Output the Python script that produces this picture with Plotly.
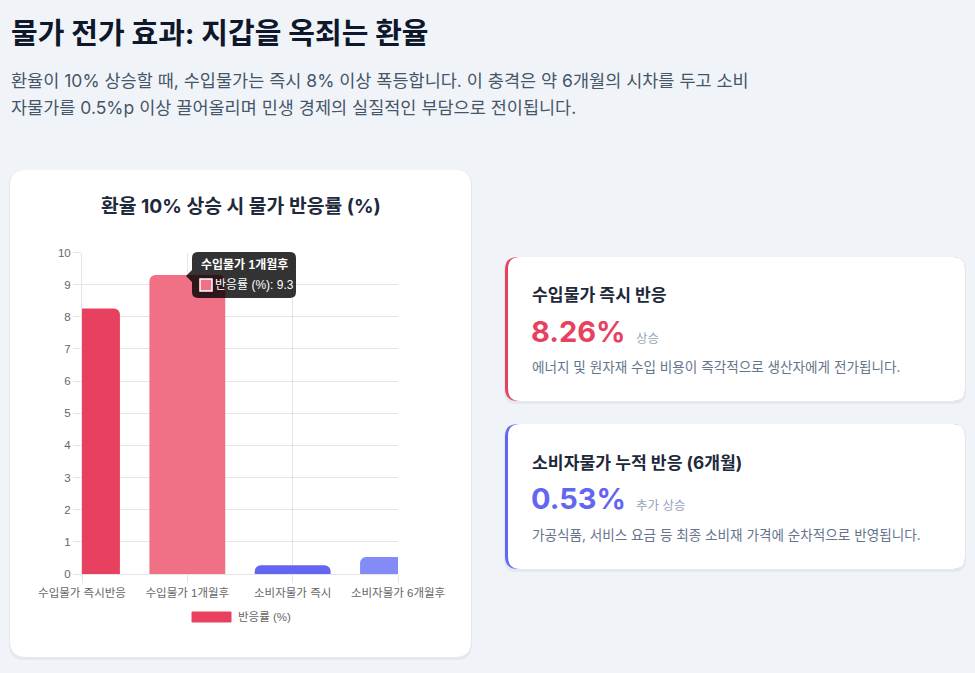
import plotly.graph_objects as go

# chart data
categories = ['수입물가 즉시반응', '수입물가 1개월후', '소비자물가 즉시', '소비자물가 6개월후']
response_pct = [8.26, 9.3, 0.27, 0.53]
bar_colors = ['#e8415f', '#f07186', '#6366f1', '#838bf6']
y_ticks = [0, 1, 2, 3, 4, 5, 6, 7, 8, 9, 10]

W, H = 975, 673
KR = 'Inter, "Noto Sans CJK KR", sans-serif'
CHART_FONT = '"Liberation Sans", "Noto Sans CJK KR", sans-serif'


def px(x):
    return x / W


def py(y):
    return 1 - y / H


# rounded rectangle as a paper-space path, given pixel coords
def rrect(x0, y0, x1, y1, r):
    pts = [
        ('M', x0 + r, y0), ('L', x1 - r, y0), ('Q', x1, y0, x1, y0 + r),
        ('L', x1, y1 - r), ('Q', x1, y1, x1 - r, y1), ('L', x0 + r, y1),
        ('Q', x0, y1, x0, y1 - r), ('L', x0, y0 + r), ('Q', x0, y0, x0 + r, y0),
    ]
    out = []
    for p in pts:
        cmd = p[0]
        coords = p[1:]
        s = cmd
        for i in range(0, len(coords), 2):
            s += f' {px(coords[i]):.5f},{py(coords[i + 1]):.5f}'
        out.append(s)
    return ' '.join(out) + ' Z'


def card(x0, y0, x1, y1, r, fill='white'):
    return [
        dict(type='path', xref='paper', yref='paper', layer='below',
             path=rrect(x0 - 1, y0, x1 + 1, y1 + 3, r), fillcolor='rgba(15,23,42,0.05)', line_width=0),
        dict(type='path', xref='paper', yref='paper', layer='below',
             path=rrect(x0, y0, x1, y1, r), fillcolor=fill, line_width=0),
    ]


def text(x, y, s, size, color, bold=False, anchor='left', family=KR):
    if bold:
        s = f'<b>{s}</b>'
    return dict(x=px(x), y=py(y), xref='paper', yref='paper', text=s, showarrow=False,
                xanchor=anchor, yanchor='middle', font=dict(size=size, color=color, family=family))


fig = go.Figure(go.Bar(
    x=categories, y=response_pct, width=0.72,
    marker=dict(color=bar_colors, line_width=0, cornerradius=6),
    name='반응률 (%)',
))

shapes = []
shapes += card(10, 170, 471, 657, 16)
# side cards with coloured left edge
shapes += card(505, 257, 965, 401, 13, fill='#e8415f')
shapes.append(dict(type='path', xref='paper', yref='paper', layer='below',
                   path=rrect(508, 257, 965, 401, 12), fillcolor='white', line_width=0))
shapes += card(505, 424, 965, 569, 13, fill='#6366f1')
shapes.append(dict(type='path', xref='paper', yref='paper', layer='below',
                   path=rrect(508, 424, 965, 569, 12), fillcolor='white', line_width=0))

# legend box
shapes.append(dict(type='rect', xref='paper', yref='paper', x0=px(192), x1=px(231), y0=py(622), y1=py(612),
                   fillcolor='#e8415f', line=dict(color='#e8415f', width=1)))

# tooltip
shapes.append(dict(type='path', xref='paper', yref='paper', layer='above',
                   path=rrect(192, 252, 296, 298, 6), fillcolor='rgba(0,0,0,0.8)', line_width=0))
shapes.append(dict(type='path', xref='paper', yref='paper', layer='above',
                   path=f'M {px(192)},{py(270)} L {px(186)},{py(276)} L {px(192)},{py(282)} Z',
                   fillcolor='rgba(0,0,0,0.8)', line_width=0))
shapes.append(dict(type='rect', xref='paper', yref='paper', layer='above',
                   x0=px(200), x1=px(212), y0=py(291), y1=py(279),
                   fillcolor='#f07186', line=dict(color='white', width=1.5)))

annotations = [
    text(9, 33, '물가 전가 효과: 지갑을 옥죄는 환율', 29, '#0f172a', bold=True),
    text(9, 80, '환율이 10% 상승할 때, 수입물가는 즉시 8% 이상 폭등합니다. 이 충격은 약 6개월의 시차를 두고 소비', 17.5, '#475569'),
    text(9, 108, '자물가를 0.5%p 이상 끌어올리며 민생 경제의 실질적인 부담으로 전이됩니다.', 17.5, '#475569'),
    text(241, 206, '환율 10% 상승 시 물가 반응률 (%)', 19.3, '#1e293b', bold=True, anchor='center'),
    text(236, 617, '반응률 (%)', 11.5, '#666666', family=CHART_FONT),
    text(199, 265, '수입물가 1개월후', 12, 'white', bold=True, family=CHART_FONT),
    text(213, 285, '반응률 (%): 9.3', 12, 'white', family=CHART_FONT),
    # card 1
    text(530, 294, '수입물가 즉시 반응', 17.2, '#1e293b', bold=True),
    text(529, 331, '8.26%', 29, '#e8415f', bold=True),
    text(634, 338, '상승', 12.5, '#94a3b8'),
    text(530, 367, '에너지 및 원자재 수입 비용이 즉각적으로 생산자에게 전가됩니다.', 13.6, '#64748b'),
    # card 2
    text(530, 462, '소비자물가 누적 반응 (6개월)', 17.2, '#1e293b', bold=True),
    text(529, 498, '0.53%', 29, '#6366f1', bold=True),
    text(634, 505, '추가 상승', 12.5, '#94a3b8'),
    text(530, 535, '가공식품, 서비스 요금 등 최종 소비재 가격에 순차적으로 반영됩니다.', 13.6, '#64748b'),
]

grid = 'rgba(0,0,0,0.1)'
fig.update_layout(
    width=W, height=H,
    margin=dict(l=0, r=0, t=0, b=0, autoexpand=False),
    paper_bgcolor='#f0f4f8',
    plot_bgcolor='white',
    showlegend=False,
    shapes=shapes,
    annotations=annotations,
    font=dict(family=CHART_FONT, color='#666666', size=12),
    xaxis=dict(
        domain=[px(82), px(398)], type='category', categoryarray=categories,
        range=[0, 3], showgrid=True, gridcolor=grid, gridwidth=1,
        showline=True, linecolor=grid, linewidth=1,
        ticks='outside', ticklen=8, tickcolor=grid, automargin=False,
        tickfont=dict(size=11.5, color='#666666', family=CHART_FONT),
        fixedrange=True,
    ),
    yaxis=dict(
        domain=[py(574), py(252.5)], range=[0, 10], tickvals=y_ticks,
        showgrid=True, gridcolor=grid, gridwidth=1, zeroline=False,
        showline=True, linecolor=grid, linewidth=1,
        ticks='outside', ticklen=8, tickcolor=grid, automargin=False,
        tickfont=dict(size=11.5, color='#666666', family=CHART_FONT),
        fixedrange=True,
    ),
)

fig.write_html("out.html", config={'displayModeBar': False},
               post_script="document.body.style.margin='0';")
